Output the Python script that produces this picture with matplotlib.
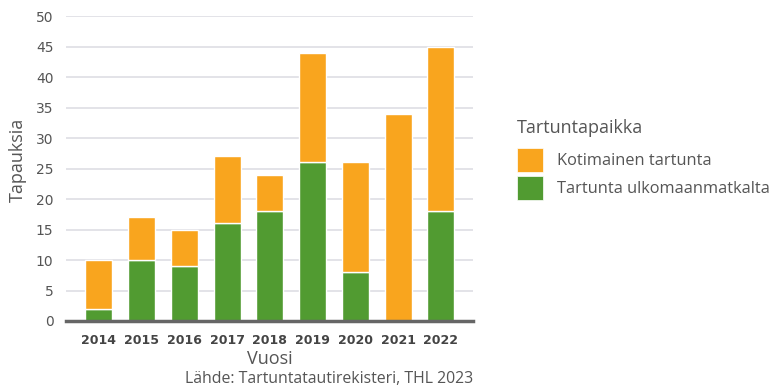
import matplotlib
matplotlib.use("Agg")
import matplotlib.pyplot as plt
from matplotlib.patches import Patch

years = ["2014", "2015", "2016", "2017", "2018", "2019", "2020", "2021", "2022"]
ulkomaa = [2, 10, 9, 16, 18, 26, 8, 0, 18]
kotimainen = [8, 7, 6, 11, 6, 18, 18, 34, 27]
yticks = [0, 5, 10, 15, 20, 25, 30, 35, 40, 45, 50]

orange = "#F9A51E"
green = "#519B31"
gray = "#555555"
tfont = ["Open Sans", "DejaVu Sans"]

fig = plt.figure(figsize=(7.74, 3.89), dpi=100)
ax = fig.add_axes([66/774, 1-321/389, (473-66)/774, (321-16)/389])

x = list(range(len(years)))
ax.bar(x, ulkomaa, width=0.63, color=green, edgecolor="white", linewidth=1, zorder=3)
ax.bar(x, kotimainen, bottom=ulkomaa, width=0.63, color=orange, edgecolor="white", linewidth=1, zorder=3)

ax.set_xlim(-0.77, 8.75)
ax.set_ylim(0, 50)
ax.set_yticks(yticks)
ax.set_xticks(x)
ax.set_xticklabels(years, fontweight="bold", fontsize=9, color="#444444")
ax.tick_params(axis="y", length=0, labelsize=10, labelcolor=gray, pad=9)
ax.tick_params(axis="x", length=0, pad=9)
ax.grid(axis="y", color="#e0e0e6", linewidth=1.3, zorder=0)
for s in ["top", "right", "left"]:
    ax.spines[s].set_visible(False)
ax.spines["bottom"].set_color("#666666")
ax.spines["bottom"].set_linewidth(2.5)
ax.spines["bottom"].set_zorder(4)

fig.text(18/774, 1-160/389, "Tapauksia", rotation=90, ha="center", va="center",
         fontsize=13, color=gray, family=tfont)
fig.text(270/774, 1-359/389, "Vuosi", ha="center", va="center",
         fontsize=13, color=gray, family=tfont)
fig.text(473/774, 1-379/389, "Lähde: Tartuntatautirekisteri, THL 2023", ha="right", va="center",
         fontsize=11.4, color=gray, family=tfont)

fig.text(517/774, 1-128/389, "Tartuntapaikka", ha="left", va="center",
         fontsize=13, color=gray, family=tfont)
handles = [Patch(facecolor=orange, edgecolor="white", linewidth=0.5),
           Patch(facecolor=green, edgecolor="white", linewidth=0.5)]
leg = fig.legend(handles, ["Kotimainen tartunta", "Tartunta ulkomaanmatkalta"],
                 loc="upper left", bbox_to_anchor=(517/774, 1-148/389), borderpad=0,
                 borderaxespad=0, frameon=False, handlelength=1.6, handleheight=1.85,
                 handletextpad=0.85, labelspacing=0.27,
                 prop={"family": tfont, "size": 11.8})
for t in leg.get_texts():
    t.set_color(gray)

fig.savefig("out.png", dpi=100)
